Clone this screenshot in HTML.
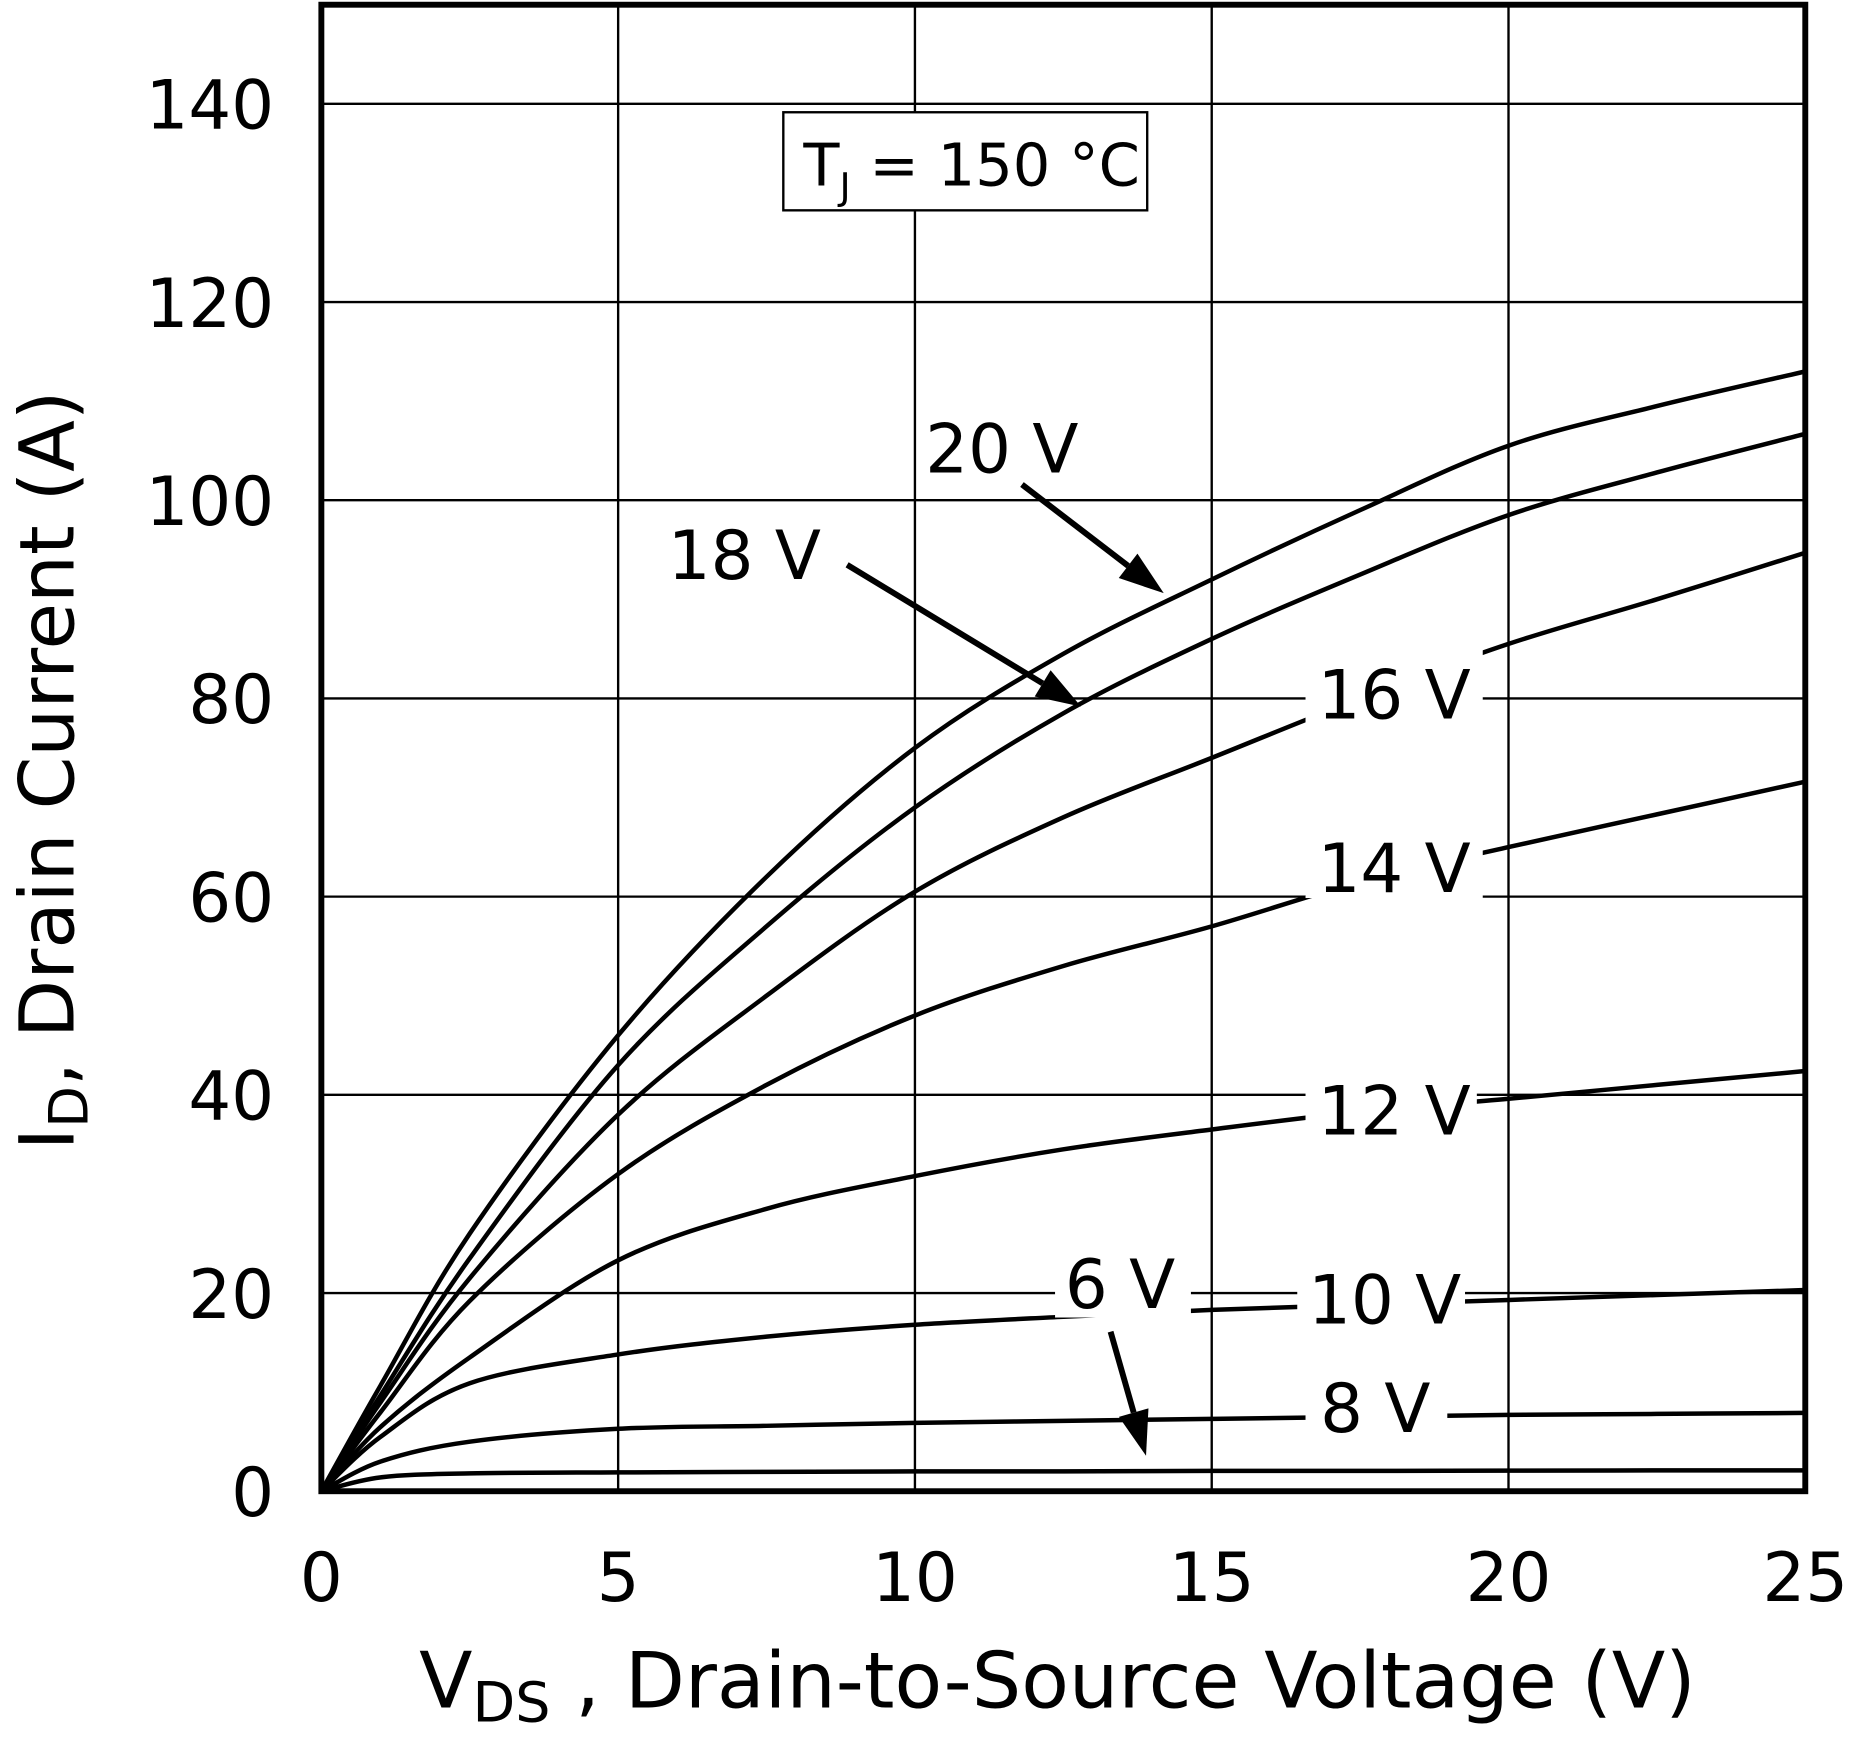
<!DOCTYPE html>
<html><head><meta charset="utf-8"><style>
html,body{margin:0;padding:0;background:#fff;}
svg{display:block;}
text{font-family:"DejaVu Sans","Liberation Sans",sans-serif;fill:#000;}
</style></head><body>
<svg id="chart" width="1849" height="1737" viewBox="0 0 1565 1470" preserveAspectRatio="none" xmlns="http://www.w3.org/2000/svg">
<rect x="0" y="0" width="1565" height="1470" fill="#fff"/>
<g id="grid"></g>
<g id="curves"></g>
<g id="labels"></g>
<g id="axes"></g>
</svg>
<script>
const xTicks = [0, 5, 10, 15, 20, 25];
const yTicks = [0, 20, 40, 60, 80, 100, 120, 140];
const vds = [0, 1, 2.5, 5, 7.5, 10, 12.5, 15, 17.5, 20, 22.5, 25];
const series20 = [0, 10.7, 26, 46, 62, 75, 84.5, 92, 99, 105.5, 109.5, 113];
const series18 = [0, 9.7, 23.5, 43, 57, 69, 78.5, 86, 92.5, 98.5, 102.8, 106.7];
const series16 = [0, 9, 21.5, 38, 50, 60.5, 68, 74, 80, 85.5, 90, 94.7];
const series14 = [0, 8, 19.2, 32, 41, 48, 53, 57, 61.5, 65, 68.3, 71.6];
const series12 = [0, 6.5, 13.5, 23.3, 28.5, 31.8, 34.5, 36.5, 38.3, 39.6, 41, 42.4];
const series10 = [0, 5.5, 10.9, 13.8, 15.6, 16.8, 17.6, 18.3, 18.8, 19.3, 19.8, 20.3];
const series8 = [0, 3, 5, 6.3, 6.6, 6.9, 7.1, 7.3, 7.5, 7.7, 7.8, 7.9];
const series6 = [0, 1.4, 1.8, 1.9, 1.95, 2, 2, 2.05, 2.05, 2.08, 2.1, 2.1];
const seriesNames = ['vgs-20v','vgs-18v','vgs-16v','vgs-14v','vgs-12v','vgs-10v','vgs-8v','vgs-6v'];
const seriesList = [series20, series18, series16, series14, series12, series10, series8, series6];

const X0 = 272, X1 = 1528, Y0 = 1262, Y1 = 4;
const XMAX = 25, YMAX = 150;
function xs(v){ return X0 + v * (X1 - X0) / XMAX; }
function ys(a){ return Y0 - a * (Y0 - Y1) / YMAX; }
const NS = 'http://www.w3.org/2000/svg';
function mk(tag, attrs, parent){
  const e = document.createElementNS(NS, tag);
  for (const k in attrs) e.setAttribute(k, attrs[k]);
  parent.appendChild(e); return e;
}
const grid = document.getElementById('grid');
const curves = document.getElementById('curves');
const labels = document.getElementById('labels');
const axes = document.getElementById('axes');

xTicks.forEach(v => {
  if (v > 0 && v < XMAX) {
    const l = mk('line', {x1: xs(v), x2: xs(v), y1: Y1, y2: Y0, stroke: '#000', 'stroke-width': 2}, grid);
    
    
  }
  const t = mk('text', {x: xs(v), y: 1355, 'font-size': 57, 'text-anchor': 'middle'}, axes);
  t.textContent = v;
  
  
});
yTicks.forEach(a => {
  if (a > 0) {
    const l = mk('line', {x1: X0, x2: X1, y1: ys(a), y2: ys(a), stroke: '#000', 'stroke-width': 2}, grid);
    
    
  }
  const t = mk('text', {x: 232, y: ys(a) + 21, 'font-size': 57, 'text-anchor': 'end'}, axes);
  t.textContent = a;
  
  
});

function pathFor(vals){
  const pts = vds.map((v, i) => [xs(v), ys(vals[i])]);
  let d = 'M' + pts[0][0] + ',' + pts[0][1];
  for (let i = 0; i < pts.length - 1; i++) {
    const p0 = pts[Math.max(0, i - 1)], p1 = pts[i], p2 = pts[i + 1], p3 = pts[Math.min(pts.length - 1, i + 2)];
    const c1 = [p1[0] + (p2[0] - p0[0]) / 6, p1[1] + (p2[1] - p0[1]) / 6];
    const c2 = [p2[0] - (p3[0] - p1[0]) / 6, p2[1] - (p3[1] - p1[1]) / 6];
    d += ' C' + c1[0] + ',' + c1[1] + ' ' + c2[0] + ',' + c2[1] + ' ' + p2[0] + ',' + p2[1];
  }
  return d;
}
seriesList.forEach((s, i) => {
  const p = mk('path', {d: pathFor(s), fill: 'none', stroke: '#000', 'stroke-width': 3.8, 'stroke-linejoin': 'round'}, curves);
  
  
});

const labelDefs = [
  {t:'16 V', x:1180, y:608, box:[1105,545,150,68], n:'label-16v'},
  {t:'14 V', x:1180, y:755, box:[1105,700,150,60], n:'label-14v'},
  {t:'12 V', x:1180, y:960, box:[1105,910,145,55], n:'label-12v'},
  {t:'10 V', x:1172, y:1120, box:[1098,1075,142,50], n:'label-10v'},
  {t:'8 V', x:1164, y:1212, box:[1105,1168,120,50], n:'label-8v'},
  {t:'6 V', x:948, y:1107, box:[893,1060,115,55], n:'label-6v'},
  {t:'20 V', x:848, y:400, box:null, n:'label-20v'},
  {t:'18 V', x:630, y:490, box:null, n:'label-18v'}
];
labelDefs.forEach(L => {
  if (L.box) {
    const r = mk('rect', {x:L.box[0], y:L.box[1], width:L.box[2], height:L.box[3], fill:'#fff'}, labels);
    
    
  }
  const t = mk('text', {x:L.x, y:L.y, 'font-size':57, 'text-anchor':'middle'}, labels);
  t.textContent = L.t;
  
  
});

function arrow(x1,y1,x2,y2,name){
  const g = mk('g', {}, labels);
  
  
  const dx = x2-x1, dy = y2-y1, len = Math.hypot(dx,dy), ux = dx/len, uy = dy/len;
  const hl = 38, hw = 13;
  const bx = x2 - ux*hl, by = y2 - uy*hl;
  mk('line', {x1:x1, y1:y1, x2:bx, y2:by, stroke:'#000', 'stroke-width':5}, g);
  mk('polygon', {points: x2+','+y2+' '+(bx-uy*hw)+','+(by+ux*hw)+' '+(bx+uy*hw)+','+(by-ux*hw), fill:'#000'}, g);
}
arrow(865,410,985,502,'arrow-20v');
arrow(717,478,915,598,'arrow-18v');
arrow(940,1127,970,1232,'arrow-6v');

const f = mk('rect', {x:X0, y:Y1, width:X1-X0, height:Y0-Y1, fill:'none', stroke:'#000', 'stroke-width':5}, axes);



const tb = mk('rect', {x:663, y:95, width:308, height:83, fill:'#fff', stroke:'#000', 'stroke-width':2}, axes);


const tt = mk('text', {x:680, y:157, 'font-size':50}, axes);


tt.innerHTML = 'T<tspan font-size="32" dy="12">J</tspan><tspan dy="-12"> = 150 °C</tspan>';

const xt = mk('text', {x:895, y:1445, 'font-size':66, 'text-anchor':'middle'}, axes);


xt.innerHTML = 'V<tspan font-size="47" dy="12">DS</tspan><tspan dy="-12"> , Drain-to-Source Voltage (V)</tspan>';
const yt = mk('text', {x:0, y:0, 'font-size':64, 'text-anchor':'middle', transform:'translate(62,652) rotate(-90)'}, axes);


yt.innerHTML = 'I<tspan font-size="46" dy="12">D</tspan><tspan dy="-12">, Drain Current (A)</tspan>';
</script>
</body></html>
